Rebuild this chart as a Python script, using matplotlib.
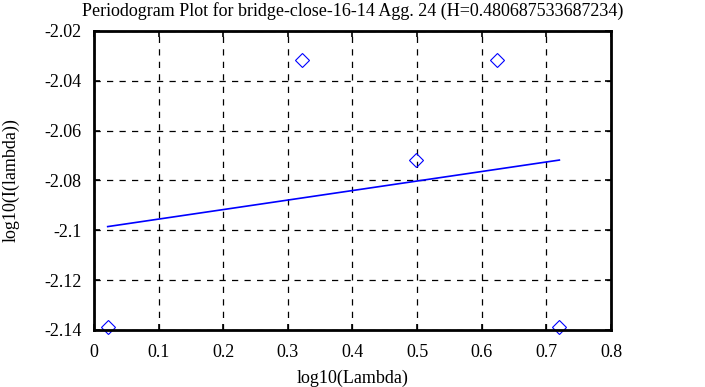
import matplotlib
matplotlib.use("Agg")
import matplotlib.pyplot as plt

plt.rcParams['font.family'] = ['Liberation Serif', 'DejaVu Serif']

pts_x = [0.0212, 0.3222, 0.4983, 0.6232, 0.7201]
pts_y = [-2.1389, -2.0318, -2.0719, -2.0318, -2.1389]
fit_x = [0.0212, 0.7201]
fit_y = [-2.0985, -2.0718]

xticks = [0, 0.1, 0.2, 0.3, 0.4, 0.5, 0.6, 0.7, 0.8]
yticks = [-2.14, -2.12, -2.1, -2.08, -2.06, -2.04, -2.02]
ytick_labels = ["-2.14", "-2.12", "-2.1", "-2.08", "-2.06", "-2.04", "-2.02"]

fig = plt.figure(figsize=(7.05, 3.87), dpi=100)
ax = fig.add_axes([94/705, 1-330/387, (611-94)/705, (330-31)/387])

ax.plot(pts_x, pts_y, linestyle='none', marker='D', markersize=7.5,
        markerfacecolor='none', markeredgecolor='blue', markeredgewidth=0.8, clip_on=False)
ax.plot(fit_x, fit_y, color='blue', linewidth=1.2)

ax.set_xlim(0, 0.8)
ax.set_ylim(-2.14, -2.02)
ax.set_xticks(xticks)
ax.set_xticklabels(["0", "0.1", "0.2", "0.3", "0.4", "0.5", "0.6", "0.7", "0.8"])
ax.set_yticks(yticks)
ax.set_yticklabels(ytick_labels)
ax.grid(True, color='black', linestyle=(0, (5, 5)), linewidth=0.9)
ax.tick_params(direction='in', top=True, right=True, length=4, width=1.2, labelsize=13, colors='black')
ax.tick_params(axis='x', pad=10)
ax.tick_params(axis='y', pad=9)
for s in ax.spines.values():
    s.set_linewidth(2)
ax.set_xlabel("log10(Lambda)", fontsize=13, labelpad=6)
ax.set_ylabel("log10(I(lambda))", fontsize=13)
ax.yaxis.set_label_coords((20 - 94) / 517, 0.5)
ax.set_title("Periodogram Plot for bridge-close-16-14 Agg. 24 (H=0.480687533687234)", fontsize=13, pad=11)

fig.savefig("out.png", dpi=100)
